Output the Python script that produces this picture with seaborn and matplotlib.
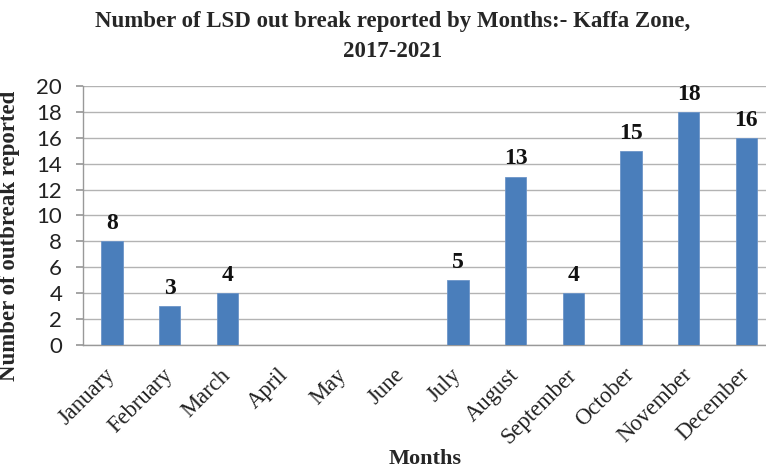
import matplotlib
matplotlib.use("Agg")
import matplotlib.pyplot as plt
import matplotlib.transforms as mtransforms
import seaborn as sns
import pandas as pd

months = ["January", "February", "March", "April", "May", "June", "July",
          "August", "September", "October", "November", "December"]
outbreaks = [8, 3, 4, 0, 0, 0, 5, 13, 4, 15, 18, 16]
y_ticks = [0, 2, 4, 6, 8, 10, 12, 14, 16, 18, 20]

df = pd.DataFrame({"Month": months, "Outbreaks": outbreaks})

sns.set_theme(style="white")
serif = ["Liberation Serif", "DejaVu Serif"]

fig = plt.figure(figsize=(7.66, 4.72), dpi=100)
ax = fig.add_axes([0.1084, 0.269, 0.9034, 0.549])

sns.barplot(data=df, x="Month", y="Outbreaks", color="#4a7ebb", width=0.37,
            saturation=1, ax=ax, zorder=3, edgecolor="#6d95c8", linewidth=0.6)

ax.set_ylim(0, 20)
ax.set_xlim(-0.5, 11.5)
ax.set_yticks(y_ticks)
ax.yaxis.grid(True, color="#b3b3b3", linewidth=1, zorder=0)
ax.set_axisbelow(True)

for s in ["top", "right"]:
    ax.spines[s].set_visible(False)
for s in ["left", "bottom"]:
    ax.spines[s].set_color("#999999")
    ax.spines[s].set_linewidth(1)

ax.tick_params(axis="y", which="both", left=True, length=5, color="#999999",
               labelsize=16, pad=10)
for lbl in ax.get_yticklabels():
    lbl.set_fontfamily(["Lato", "DejaVu Sans"])
    lbl.set_color("#222222")

ax.tick_params(axis="x", bottom=False, labelsize=16.3, pad=8)
ax.set_xticks(range(len(months)))
ax.set_xticklabels(months, rotation=45, ha="right", rotation_mode="anchor",
                   fontfamily=serif, color="#222222")
shift = mtransforms.ScaledTranslation(-7 / 100, 0, fig.dpi_scale_trans)
for lbl in ax.get_xticklabels():
    lbl.set_transform(lbl.get_transform() + shift)

# value labels above the non-empty bars
for i, v in enumerate(outbreaks):
    if v > 0:
        ax.text(i, v + 0.55, str(v), ha="center", va="bottom", fontsize=17,
                fontweight="bold", fontfamily=serif, color="#111111")

ax.set_xlabel("Months", fontsize=16, fontweight="bold", fontfamily=serif)
ax.xaxis.set_label_coords(0.495, -0.4)
ax.set_ylabel("Number of outbreak reported", fontsize=16.5, fontweight="bold",
              fontfamily=serif)
ax.yaxis.set_label_coords(-0.091, 0.42)

fig.suptitle("Number of LSD out break reported by Months:- Kaffa Zone,\n2017-2021",
             x=0.513, y=0.977, fontsize=16.5, fontweight="bold", fontfamily=serif,
             linespacing=1.6)

fig.savefig("out.png", dpi=100)
